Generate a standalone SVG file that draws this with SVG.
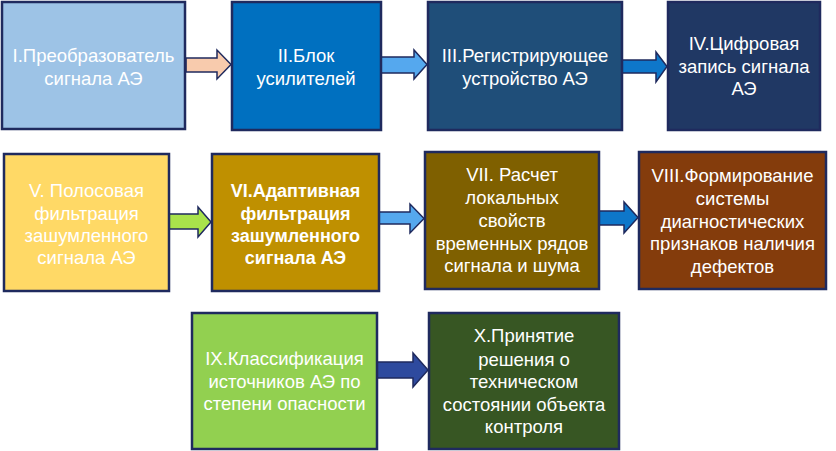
<svg xmlns="http://www.w3.org/2000/svg" width="836" height="451" viewBox="0 0 836 451">
<style>
.box{stroke:#1F2A5E;stroke-width:2.5}
.arr{stroke:#1F2A5E;stroke-width:1.5;stroke-linejoin:miter}
text{font-family:"Liberation Sans",Arial,sans-serif;font-size:18.5px;fill:#FFFFFF;text-anchor:middle}
.b{font-weight:bold;font-size:18px}
</style>
<rect width="836" height="451" fill="#FFFFFF"/>
<g id="connectors">
<polygon class="arr" fill="#F8CBAD" points="186,58 217,58 217,50 231,64.5 217,79 217,72 186,72"/>
<polygon class="arr" fill="#55A8EE" points="381,57 414,57 414,50 427,64.5 414,79 414,73 381,73"/>
<polygon class="arr" fill="#0E77CA" points="622,60 656,60 656,52 667,66.5 656,82 656,73 622,73"/>
<polygon class="arr" fill="#A9E34B" points="169,214 198,214 198,207 211,222 198,237 198,229 169,229"/>
<polygon class="arr" fill="#55A8EE" points="379,212 410,212 410,204 424,218.5 410,233 410,224 379,224"/>
<polygon class="arr" fill="#0E77CA" points="599,211 624,211 624,202 638,217.5 624,233 624,225 599,225"/>
<polygon class="arr" fill="#2E4A9E" points="377,362 413,362 413,353 428,370 413,387 413,378 377,378"/>
</g>
<g id="n1"><rect class="box" x="2" y="2" width="183" height="127" fill="#9DC3E6"/>
<text x="93.5" y="62">I.Преобразователь</text><text x="93.5" y="85">сигнала АЭ</text></g>
<g id="n2"><rect class="box" x="232" y="2" width="149" height="128" fill="#0070C0"/>
<text x="306" y="62">II.Блок</text><text x="306" y="85">усилителей</text></g>
<g id="n3"><rect class="box" x="428" y="2" width="194" height="128" fill="#1F4E79"/>
<text x="525" y="62">III.Регистрирующее</text><text x="525" y="85">устройство АЭ</text></g>
<g id="n4"><rect class="box" x="668" y="2" width="152" height="128" fill="#203864"/>
<text x="744" y="50">IV.Цифровая</text><text x="744" y="73">запись сигнала</text><text x="744" y="95">АЭ</text></g>
<g id="n5"><rect class="box" x="4" y="154" width="165" height="137" fill="#FFD966"/>
<text x="86.5" y="197">V. Полосовая</text><text x="86.5" y="219.5">фильтрация</text><text x="86.5" y="242">зашумленного</text><text x="86.5" y="264">сигнала АЭ</text></g>
<g id="n6"><rect class="box" x="212" y="154" width="167" height="137" fill="#BF9000"/>
<text class="b" x="295.5" y="197">VI.Адаптивная</text><text class="b" x="295.5" y="219.5">фильтрация</text><text class="b" x="295.5" y="242">зашумленного</text><text class="b" x="295.5" y="264">сигнала АЭ</text></g>
<g id="n7"><rect class="box" x="425" y="152" width="174" height="137" fill="#7F6000"/>
<text x="512" y="181">VII.  Расчет</text><text x="512" y="204">локальных</text><text x="512" y="227">свойств</text><text x="512" y="250">временных рядов</text><text x="512" y="272">сигнала и шума</text></g>
<g id="n8"><rect class="box" x="639" y="152" width="187" height="137" fill="#843C0C"/>
<text x="732.5" y="182">VIII.Формирование</text><text x="732.5" y="205">системы</text><text x="732.5" y="228">диагностических</text><text x="732.5" y="250">признаков наличия</text><text x="732.5" y="273">дефектов</text></g>
<g id="n9"><rect class="box" x="192" y="313" width="185" height="136" fill="#92D050"/>
<text x="284.5" y="365">IX.Классификация</text><text x="284.5" y="388">источников АЭ по</text><text x="284.5" y="410">степени опасности</text></g>
<g id="n10"><rect class="box" x="429" y="313" width="190" height="136" fill="#375623"/>
<text x="524" y="342">X.Принятие</text><text x="524" y="366">решения о</text><text x="524" y="388">техническом</text><text x="524" y="411">состоянии объекта</text><text x="524" y="433">контроля</text></g>
</svg>
